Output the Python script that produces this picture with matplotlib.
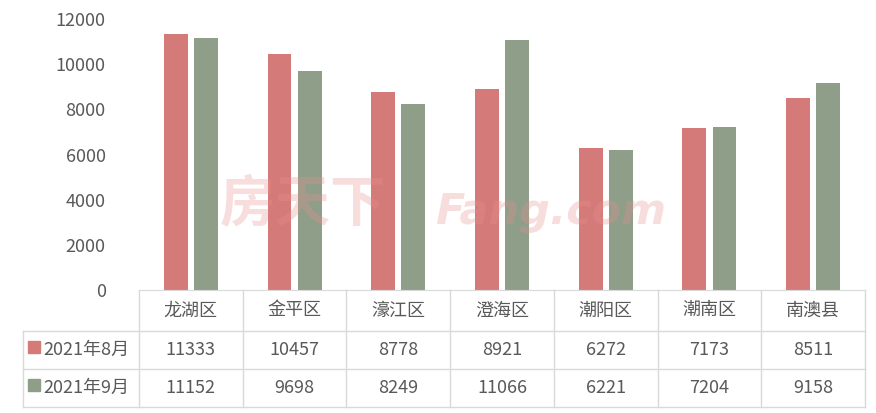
import matplotlib.pyplot as plt
import matplotlib.transforms as mtransforms

plt.rcParams['font.family'] = ['Noto Sans CJK SC', 'DejaVu Sans']
plt.rcParams['font.weight'] = 'light'

districts = ['龙湖区', '金平区', '濠江区', '澄海区', '潮阳区', '潮南区', '南澳县']
series_names = ['2021年8月', '2021年9月']
aug = [11333, 10457, 8778, 8921, 6272, 7173, 8511]
sep = [11152, 9698, 8249, 11066, 6221, 7204, 9158]
yticks = [0, 2000, 4000, 6000, 8000, 10000, 12000]

red = '#D47B79'
green = '#8E9E88'
txt = '#595959'
grid = '#D9D9D9'

fig = plt.figure(figsize=(8.76, 4.13), dpi=100)
ax = fig.add_axes([139 / 876, (413 - 290) / 413, 726 / 876, 271 / 413])

x = list(range(len(districts)))
ax.bar([i - 0.145 for i in x], aug, width=0.23, color=red, zorder=2)
ax.bar([i + 0.145 for i in x], sep, width=0.23, color=green, zorder=2)

ax.set_xlim(-0.5, len(districts) - 0.5)
ax.set_ylim(0, 12000)
ax.set_yticks(yticks)
ax.set_yticklabels([str(v) for v in yticks], fontsize=13, color=txt)
ax.tick_params(axis='y', length=0, pad=24)
ax.set_xticks([])
for s in ['top', 'right', 'left']:
    ax.spines[s].set_visible(False)
ax.spines['bottom'].set_color(grid)

# data table under the axis
tr = mtransforms.blended_transform_factory(ax.transData, ax.transAxes)
rows = [0.0, -0.151, -0.292, -0.432]
left = -1.62
n = len(districts)
for yy in rows[1:]:
    ax.plot([left, n - 0.5], [yy, yy], color=grid, lw=1, transform=tr, clip_on=False)
ax.plot([left, left], [rows[1], rows[3]], color=grid, lw=1, transform=tr, clip_on=False)
for i in range(n + 1):
    ax.plot([i - 0.5, i - 0.5], [rows[0], rows[3]], color=grid, lw=1, transform=tr, clip_on=False)

for i, d in enumerate(districts):
    ax.text(i, (rows[0] + rows[1]) / 2, d, transform=tr, ha='center', va='center',
            fontsize=13, color=txt, clip_on=False)
    ax.text(i, (rows[1] + rows[2]) / 2, str(aug[i]), transform=tr, ha='center', va='center',
            fontsize=13, color=txt, clip_on=False)
    ax.text(i, (rows[2] + rows[3]) / 2, str(sep[i]), transform=tr, ha='center', va='center',
            fontsize=13, color=txt, clip_on=False)

for k, (name, col) in enumerate(zip(series_names, [red, green])):
    yc = (rows[k + 1] + rows[k + 2]) / 2
    ax.plot([-1.51], [yc + 0.012], marker='s', ms=8, color=col, transform=tr, clip_on=False)
    ax.text(-1.42, yc, name, transform=tr, ha='left', va='center',
            fontsize=13, color=txt, clip_on=False)

# watermark
fig.text(220 / 876, 1 - 205 / 413, '房天下', fontsize=40, fontweight='bold',
         color='#E89090', alpha=0.3, va='center', ha='left', zorder=5)
fig.text(435 / 876, 1 - 212 / 413, 'Fang.com', fontsize=31, fontweight='bold', style='italic',
         color='#E89090', alpha=0.3, va='center', ha='left', zorder=5, family='DejaVu Sans')

fig.savefig('out.png', dpi=100)
